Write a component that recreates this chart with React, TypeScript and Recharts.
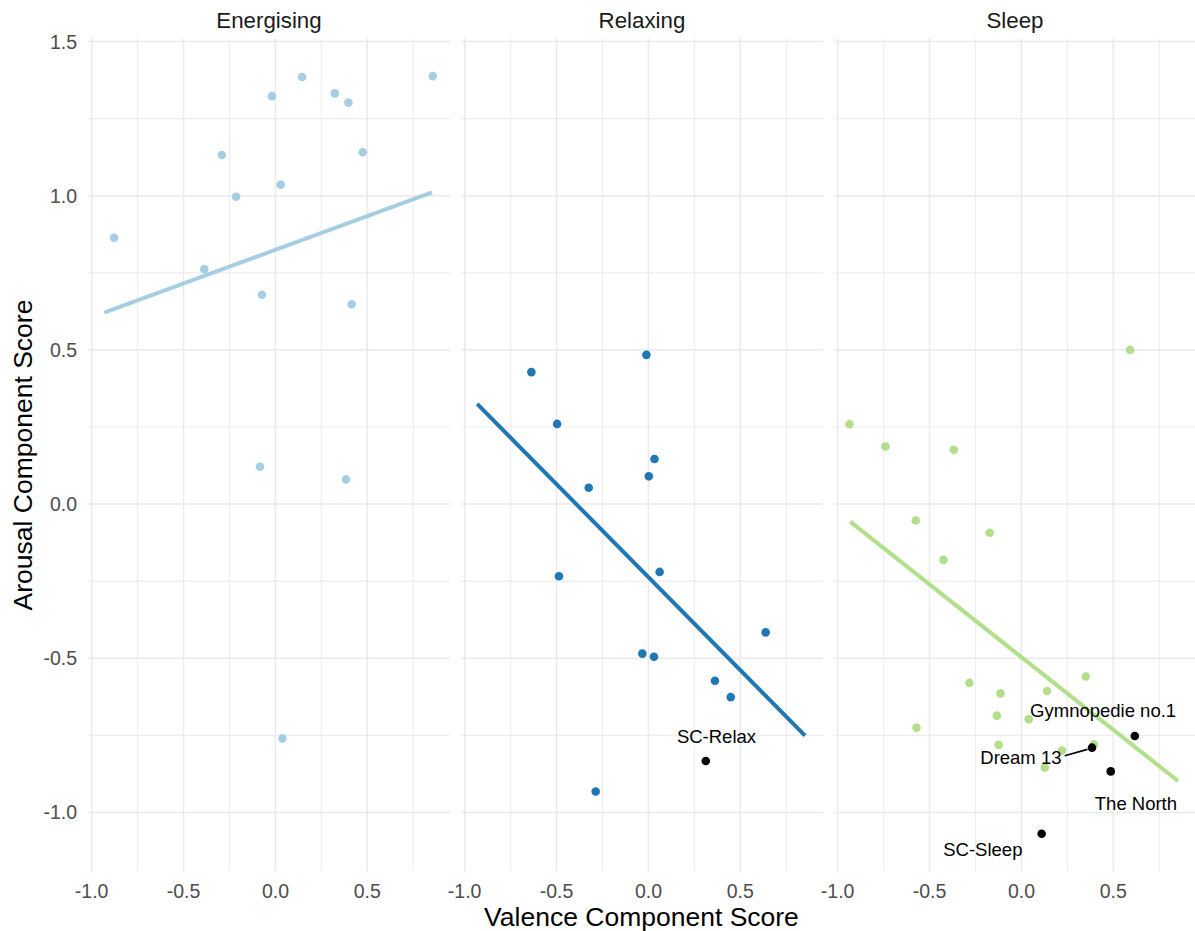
import React from 'react';
import { ScatterChart, Scatter, XAxis, YAxis, CartesianGrid } from 'recharts';

// ---- data ----
const facetNames = ['Energising', 'Relaxing', 'Sleep'];

const energisingX = [-0.878, 0.145, 0.856, -0.019, 0.323, 0.397, -0.292, 0.475, 0.029, -0.214, -0.387, -0.073, 0.415, -0.084, 0.384, 0.038];
const energisingY = [0.864, 1.385, 1.388, 1.323, 1.332, 1.302, 1.132, 1.141, 1.036, 0.997, 0.762, 0.679, 0.648, 0.121, 0.080, -0.760];

const relaxingX = [-0.637, -0.011, -0.497, 0.033, 0.002, -0.325, -0.487, 0.061, 0.638, -0.033, 0.030, 0.362, 0.448, -0.287];
const relaxingY = [0.428, 0.484, 0.260, 0.146, 0.090, 0.053, -0.234, -0.220, -0.416, -0.485, -0.495, -0.573, -0.626, -0.932];

const sleepX = [0.591, -0.936, -0.740, -0.368, -0.575, -0.173, -0.424, 0.350, -0.283, -0.114, 0.139, -0.134, 0.040, -0.571, -0.124, 0.221, 0.395, 0.127];
const sleepY = [0.500, 0.259, 0.187, 0.176, -0.053, -0.093, -0.181, -0.559, -0.580, -0.614, -0.606, -0.686, -0.698, -0.725, -0.781, -0.799, -0.779, -0.854];

const relaxLabelNames = ['SC-Relax'];
const relaxLabelX = [0.312];
const relaxLabelY = [-0.833];

const sleepLabelNames = ['Gymnopedie no.1', 'Dream 13', 'The North', 'SC-Sleep'];
const sleepLabelX = [0.617, 0.384, 0.486, 0.110];
const sleepLabelY = [-0.752, -0.790, -0.867, -1.069];

const fitX = [-0.932, 0.852];
const energisingFitY = [0.621, 1.011];
const relaxingFitY = [0.325, -0.751];
const sleepFitY = [-0.057, -0.898];

const xMajor = [-1, -0.5, 0, 0.5];
const xMinor = [-0.75, -0.25, 0.25, 0.75];
const yMajor = [-1, -0.5, 0, 0.5, 1, 1.5];
const yMinor = [-0.75, -0.25, 0.25, 0.75, 1.25];

const xDomain: [number, number] = [-1.02, 0.95];
const yDomain: [number, number] = [-1.19, 1.51];

// ---- styles ----
const FONT = "'Liberation Sans', Arial, Helvetica, sans-serif";
const COLORS = ['#A6CEE3', '#1F78B4', '#B2DF8A'];

// label nudges (pixel offsets of the label baseline centre from the point)
const labelNudge: Record<string, { dx: number; dy: number; seg?: [number, number, number, number] }> = {
  'SC-Relax': { dx: 10.7, dy: -18.3 },
  'Gymnopedie no.1': { dx: -31.7, dy: -18.7 },
  'Dream 13': { dx: -71.1, dy: 16.3, seg: [-27.3, 8, -4.5, 1.7] },
  'The North': { dx: 25.2, dy: 38.7 },
  'SC-Sleep': { dx: -58.8, dy: 22 },
};

const zip = (xs: number[], ys: number[]) => xs.map((x, i) => ({ x, y: ys[i] }));
const zipNamed = (names: string[], xs: number[], ys: number[]) =>
  names.map((name, i) => ({ name, x: xs[i], y: ys[i] }));

const facetData = [
  { points: zip(energisingX, energisingY), fit: zip(fitX, energisingFitY), labeled: [] as any[] },
  { points: zip(relaxingX, relaxingY), fit: zip(fitX, relaxingFitY), labeled: zipNamed(relaxLabelNames, relaxLabelX, relaxLabelY) },
  { points: zip(sleepX, sleepY), fit: zip(fitX, sleepFitY), labeled: zipNamed(sleepLabelNames, sleepLabelX, sleepLabelY) },
];

const fmt = (v: number) => v.toFixed(1);

const makeDot = (color: string) => (props: any) => {
  if (props.cx == null || props.cy == null) return <g />;
  return <circle cx={props.cx} cy={props.cy} r={4.3} fill={color} />;
};

const labelShape = (props: any) => {
  const { cx, cy } = props;
  if (cx == null || cy == null) return <g />;
  const name = props.payload?.name ?? props.name;
  const n = labelNudge[name] || { dx: 0, dy: -12 };
  return (
    <g>
      <circle cx={cx} cy={cy} r={4.3} fill="#000000" />
      {n.seg && (
        <line x1={cx + n.seg[0]} y1={cy + n.seg[1]} x2={cx + n.seg[2]} y2={cy + n.seg[3]} stroke="#000" strokeWidth={1.6} />
      )}
      <text x={cx + n.dx} y={cy + n.dy} textAnchor="middle" fontFamily={FONT} fontSize={18.5} fill="#000">
        {name}
      </text>
    </g>
  );
};

const noShape = () => <g />;

// chart boxes: left edge, total width, left margin (plot area for panel i starts at left + margin + yAxisWidth)
const panelLefts = [0, 431, 804];
const panelWidths = [450, 392, 392];
const panelMarginLeft = [0, 30, 30];

function Panel({ idx }: { idx: number }) {
  const d = facetData[idx];
  const color = COLORS[idx];
  const showY = idx === 0;
  const tickStyle = { fill: '#4D4D4D', fontSize: 19.5, fontFamily: FONT };
  return (
    <div style={{ position: 'absolute', left: panelLefts[idx], top: 0 }}>
      <ScatterChart
        width={panelWidths[idx]}
        height={931}
        margin={{ top: 38.5, right: 0, bottom: 0, left: panelMarginLeft[idx] }}
      >
        <CartesianGrid horizontalValues={yMinor} verticalValues={xMinor} stroke="#EDEDED" strokeWidth={1.1} fill="none" />
        <CartesianGrid horizontalValues={yMajor} verticalValues={xMajor} stroke="#EAEAEA" strokeWidth={1.5} fill="none" />
        <XAxis
          type="number"
          dataKey="x"
          domain={xDomain}
          allowDataOverflow
          ticks={xMajor}
          interval={0}
          tickFormatter={fmt}
          tickLine={false}
          axisLine={false}
          tickSize={0}
          tickMargin={13}
          height={60}
          tick={tickStyle}
        />
        <YAxis
          type="number"
          dataKey="y"
          domain={yDomain}
          allowDataOverflow
          ticks={yMajor}
          interval={0}
          tickFormatter={fmt}
          tickLine={false}
          axisLine={false}
          tickSize={0}
          tickMargin={11}
          width={showY ? 88 : 0}
          hide={!showY}
          tick={tickStyle}
        />
        <Scatter name={facetNames[idx]} data={d.points} shape={makeDot(color)} isAnimationActive={false} />
        <Scatter
          name={facetNames[idx] + ' fit'}
          data={d.fit}
          line={{ stroke: color, strokeWidth: 4 }}
          shape={noShape}
          isAnimationActive={false}
        />
        {d.labeled.length > 0 && (
          <Scatter name={facetNames[idx] + ' labels'} data={d.labeled} shape={labelShape} isAnimationActive={false} />
        )}
      </ScatterChart>
    </div>
  );
}

const titleCenters = [269, 642, 1015];

export default function App() {
  return (
    <div
      style={{
        position: 'absolute',
        left: 0,
        top: 0,
        width: 1195,
        height: 931,
        overflow: 'hidden',
        background: '#ffffff',
        fontFamily: FONT,
      }}
    >
      <Panel idx={0} />
      <Panel idx={1} />
      <Panel idx={2} />
      <svg
        width={1195}
        height={931}
        style={{ position: 'absolute', left: 0, top: 0, pointerEvents: 'none' }}
      >
        {facetNames.map((n, i) => (
          <text key={n} x={titleCenters[i]} y={27.7} textAnchor="middle" fontFamily={FONT} fontSize={22.3} fill="#1A1A1A">
            {n}
          </text>
        ))}
        <text x={641.5} y={926} textAnchor="middle" fontFamily={FONT} fontSize={26.5} fill="#000">
          Valence Component Score
        </text>
        <text
          x={31.5}
          y={455}
          textAnchor="middle"
          fontFamily={FONT}
          fontSize={26.5}
          fill="#000"
          transform="rotate(-90 31.5 455)"
        >
          Arousal Component Score
        </text>
      </svg>
    </div>
  );
}
